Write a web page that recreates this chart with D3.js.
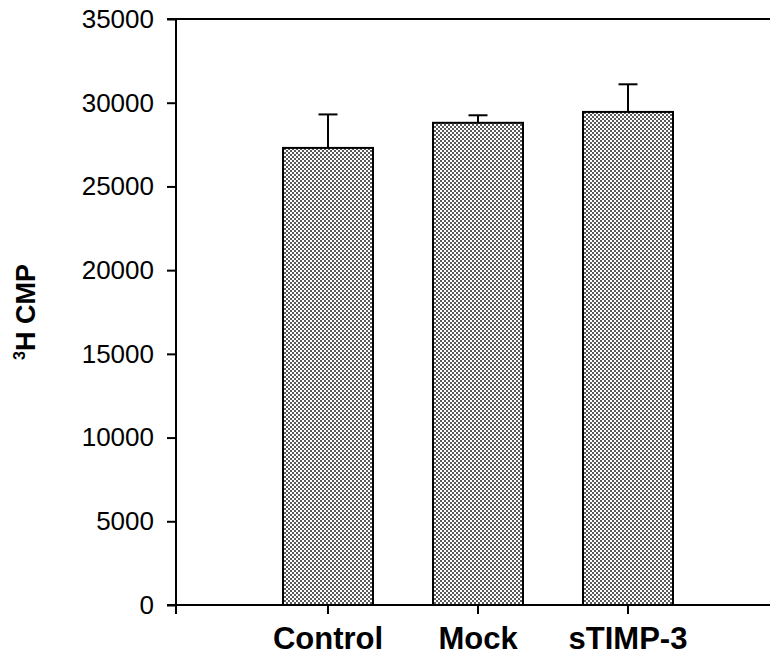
<!DOCTYPE html>
<html><head><meta charset="utf-8">
<script src="https://cdn.jsdelivr.net/npm/d3@7"></script>
<style>body{margin:0;background:#fff}</style>
</head><body>
<svg id="c" width="770" height="656"></svg>
<script>
const categories = ["Control", "Mock", "sTIMP-3"];
const values = [27300, 28800, 29450];
const errors = [2000, 450, 1650];
const yTicks = [0, 5000, 10000, 15000, 20000, 25000, 30000, 35000];

(function () {
const svg = d3.select("#c");
const mLeft = 176, mRight = 770, mTop = 19, mBottom = 605;
const y = d3.scaleLinear().domain([0, 35000]).range([mBottom, mTop]);
const x = d3.scaleBand().domain(categories).range([253, 703]).paddingInner(0.4).paddingOuter(0.2);

const defs = svg.append("defs");
const pat = defs.append("pattern").attr("id", "dots").attr("patternUnits", "userSpaceOnUse")
  .attr("width", 4).attr("height", 4);
pat.append("rect").attr("width", 4).attr("height", 4).attr("fill", "#ffffff");
pat.append("rect").attr("x", 0).attr("y", 0).attr("width", 2).attr("height", 2).attr("fill", "#5a5a5a");
pat.append("rect").attr("x", 2).attr("y", 2).attr("width", 2).attr("height", 2).attr("fill", "#5a5a5a");

// bars
svg.selectAll("rect.bar").data(categories).join("rect").attr("class", "bar")
  .attr("x", d => x(d)).attr("width", x.bandwidth())
  .attr("y", (d, i) => y(values[i])).attr("height", (d, i) => mBottom - y(values[i]))
  .attr("fill", "url(#dots)").attr("stroke", "#000").attr("stroke-width", 2);

// error bars (upper)
const cx = d => x(d) + x.bandwidth() / 2;
svg.selectAll("line.err").data(categories).join("line").attr("class", "err")
  .attr("x1", cx).attr("x2", cx)
  .attr("y1", (d, i) => y(values[i])).attr("y2", (d, i) => y(values[i] + errors[i]))
  .attr("stroke", "#000").attr("stroke-width", 2);
svg.selectAll("line.cap").data(categories).join("line").attr("class", "cap")
  .attr("x1", d => cx(d) - 9.5).attr("x2", d => cx(d) + 9.5)
  .attr("y1", (d, i) => y(values[i] + errors[i])).attr("y2", (d, i) => y(values[i] + errors[i]))
  .attr("stroke", "#000").attr("stroke-width", 2);

// y axis
const yAxis = svg.append("g").attr("transform", `translate(${mLeft},0)`)
  .call(d3.axisLeft(y).tickValues(yTicks).tickSize(9).tickSizeOuter(0).tickPadding(13).tickFormat(d3.format("d")));
yAxis.select(".domain").remove();
yAxis.selectAll(".tick line").attr("stroke-width", 2);
yAxis.selectAll("text").attr("font-family", "Liberation Sans, Arial, sans-serif").attr("font-size", 26).attr("fill", "#000");
svg.append("line").attr("x1", mLeft).attr("x2", mLeft).attr("y1", mTop).attr("y2", mBottom + 9)
  .attr("stroke", "#000").attr("stroke-width", 2);
svg.append("line").attr("x1", mLeft - 9).attr("x2", mRight).attr("y1", mTop).attr("y2", mTop)
  .attr("stroke", "#000").attr("stroke-width", 2);

// x axis
const xAxis = svg.append("g").attr("transform", `translate(0,${mBottom})`)
  .call(d3.axisBottom(x).tickSize(9).tickSizeOuter(0).tickPadding(13));
xAxis.select(".domain").remove();
xAxis.selectAll(".tick line").attr("stroke-width", 2);
xAxis.selectAll("text").attr("font-family", "Liberation Sans, Arial, sans-serif").attr("font-size", 31)
  .attr("font-weight", "bold").attr("fill", "#000");
svg.append("line").attr("x1", mLeft - 9).attr("x2", mRight).attr("y1", mBottom).attr("y2", mBottom)
  .attr("stroke", "#000").attr("stroke-width", 2);

// y label
const lab = svg.append("text").attr("transform", `translate(35,${(mTop + mBottom) / 2}) rotate(-90)`)
  .attr("text-anchor", "middle").attr("font-family", "Liberation Sans, Arial, sans-serif")
  .attr("font-size", 27).attr("font-weight", "bold").attr("fill", "#000");
lab.append("tspan").attr("font-size", 16).attr("dy", -10).text("3");
lab.append("tspan").attr("dy", 10).text("H CMP");
})();
</script>
</body></html>
